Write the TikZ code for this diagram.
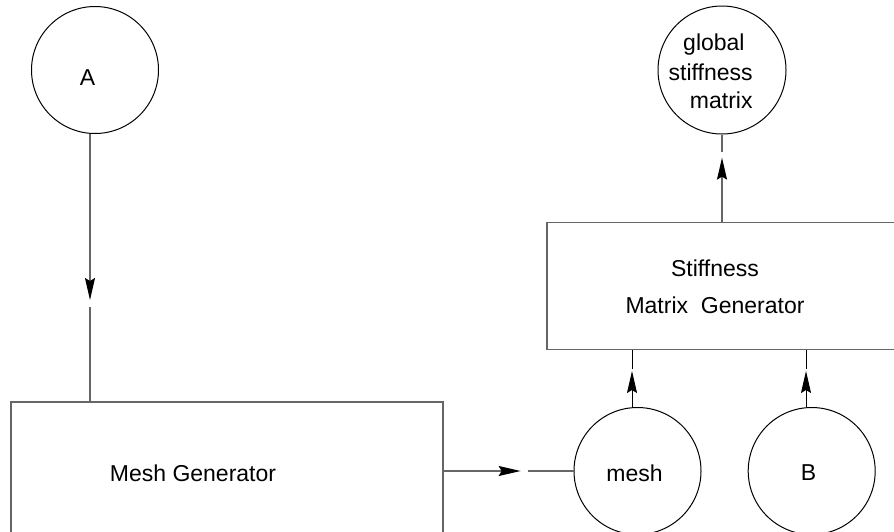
\documentclass[tikz,border=0pt]{standalone}
\usepackage{fontspec}
\setmainfont{Liberation Sans}
\usetikzlibrary{arrows.meta}

\begin{document}
\begin{tikzpicture}[x=0.5pt, y=-0.5pt,
  font=\fontsize{11.5}{14}\selectfont,
  >={Stealth[length=11pt, width=5pt, inset=1.5pt, color=black]},
  store/.style={circle, draw, line width=0.5pt, minimum size=63.5pt, inner sep=0pt},
  proc/.style={draw=black!60, line width=0.65pt, inner sep=0pt},
  line/.style={draw=black!60, line width=0.65pt},
  thin line/.style={draw=black, line width=0.5pt}]

\clip (0,0) rectangle (894,531);

% data stores
\node [store] (A) at (95,70) {};
\node (Alabel) at (87.5,78) {A};
\node [store] (mesh) at (637.5,471) {};
\node (meshlabel) at (634.5,473) {mesh};
\node [store] (B) at (811.7,471) {};
\node (Blabel) at (808.5,473) {B};
\node [store, minimum size=64pt] (gsm) at (722,70) {};
\node [anchor=east, align=right, inner sep=0pt] (gsmlabel) at (753,71)
  {global\hspace*{4pt}\\[1pt]stiffness\\matrix};

% processes
\node [proc, minimum width=216pt, minimum height=71pt] (meshgen) at (227,473) {};
\node (meshgenlabel) at (193,473) {Mesh Generator};
\node [proc, minimum width=176pt, minimum height=63.75pt] (stiffgen) at (723,286) {};
\node [align=center, inner sep=0pt] (stiffgenlabel) at (715,286.5)
  {Stiffness\\[4.5pt]Matrix\ \ Generator};

% flows
\draw [line, ->] ([xshift=-2.5pt]A.south) -- ++(0,166) coordinate (Atip);
\draw [line] ([yshift=-3.5pt]Atip) -- (Atip |- meshgen.north);

\draw [line, ->] (meshgen.east |- mesh.west) -- ++(77,0) coordinate (Mtip);
\draw [line] ([xshift=3.5pt]Mtip) -- (mesh.west);

\draw [thin line, ->] ([xshift=-2.75pt]mesh.north) -- ++(0,-36) coordinate (mtip);
\draw [thin line] ([yshift=1pt]mtip) -- (mtip |- stiffgen.south);

\draw [thin line, ->] ([xshift=-2.85pt]B.north) -- ++(0,-36) coordinate (btip);
\draw [thin line] ([yshift=1pt]btip) -- (btip |- stiffgen.south);

\draw [line, ->] (stiffgen.north -| gsm.south) -- ++(0,-64) coordinate (Gtip);
\draw [line] ([yshift=3pt]Gtip) -- (gsm.south);

\end{tikzpicture}
\end{document}
